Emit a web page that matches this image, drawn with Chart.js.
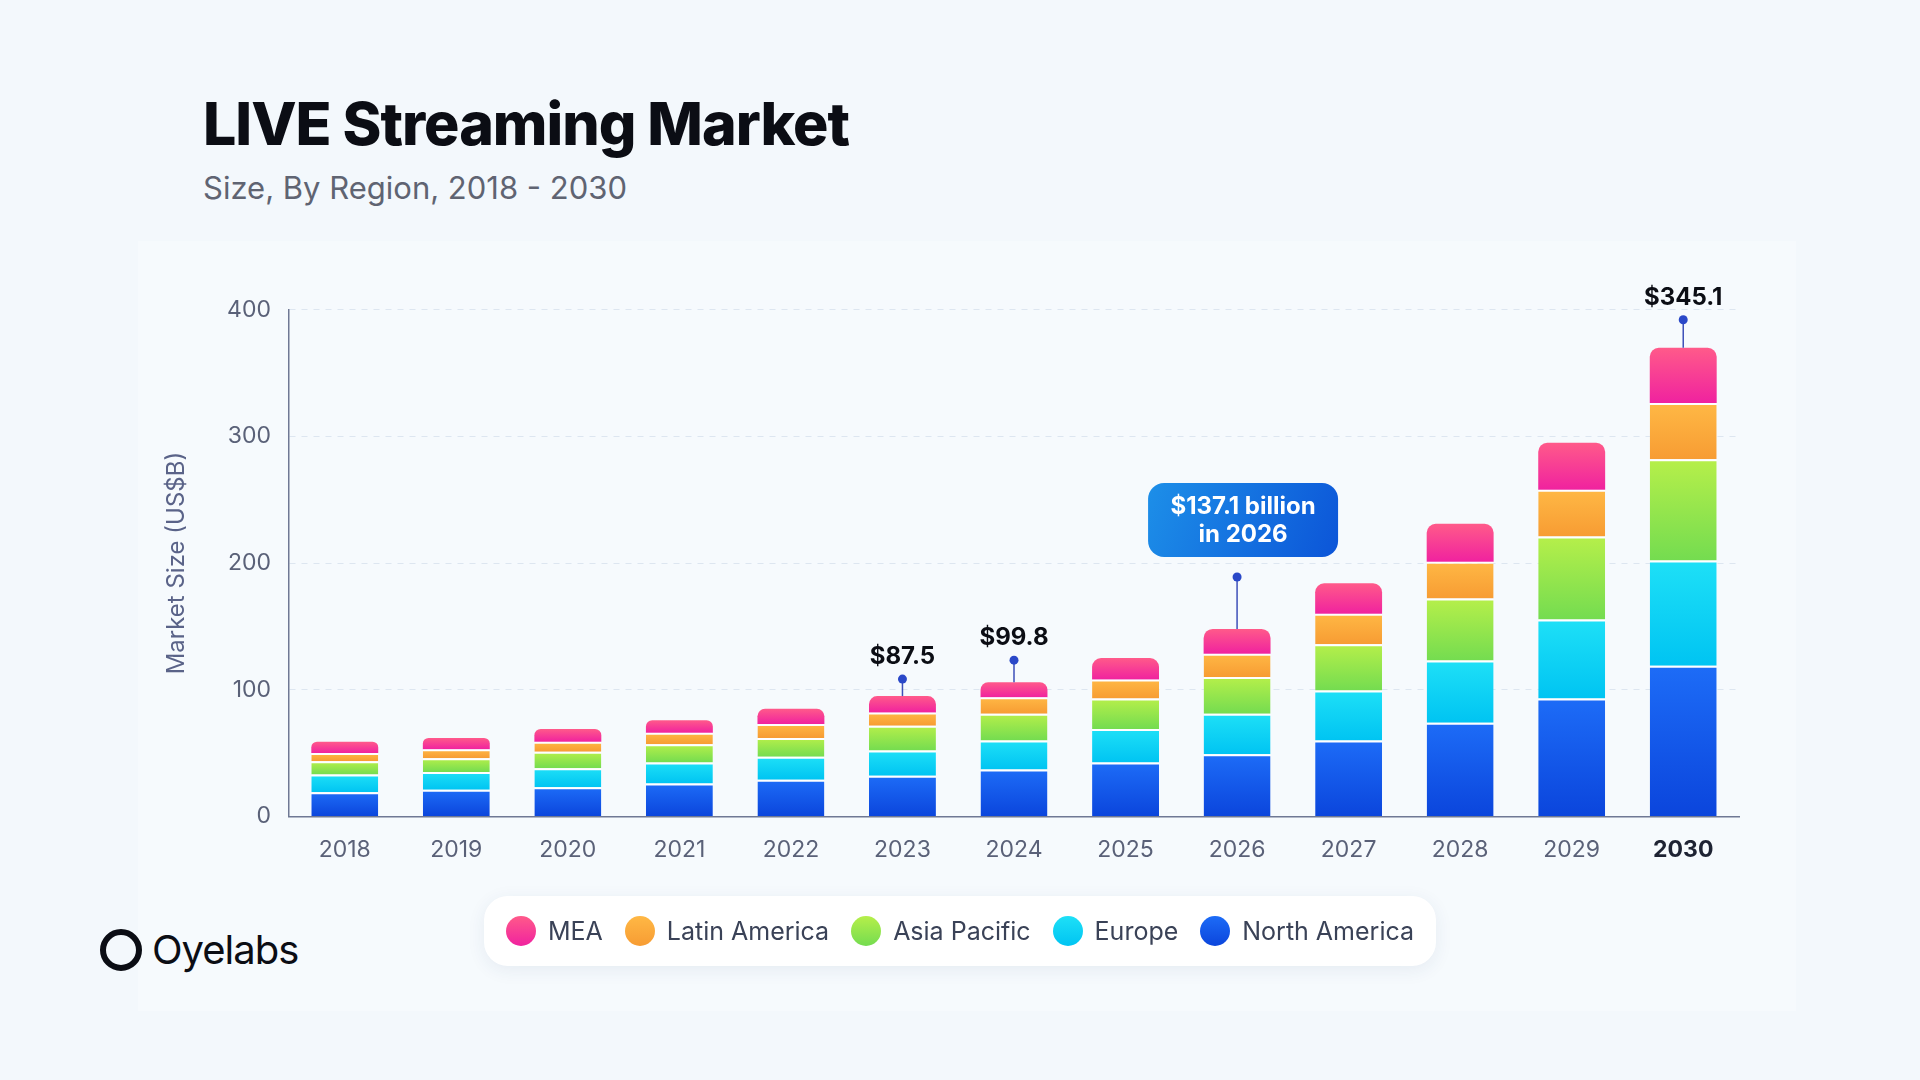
<!DOCTYPE html>
<html>
<head>
<meta charset="utf-8">
<script src="https://cdn.jsdelivr.net/npm/chart.js@4.4.1/dist/chart.umd.min.js"></script>
<style>
  body { margin: 0; width: 1920px; height: 1080px; background: #f3f8fc; font-family: Inter, "Noto Sans", sans-serif; position: relative; overflow: hidden; }
  .panel { position: absolute; left: 138px; top: 241px; width: 1658px; height: 770px; background: #f6fafd; }
  h1 { position: absolute; left: 203px; top: 88px; margin: 0; font-size: 59px; font-weight: 800; color: #0b0d14; letter-spacing: -1px; }
  .sub { position: absolute; left: 203px; top: 169px; font-size: 31px; color: #5f6472; }
  .chart-box { position: absolute; left: 150px; top: 278px; width: 1620px; height: 598px; }
  .legend { position: absolute; left: 484px; top: 896px; width: 952px; height: 70px; background: #fff; border-radius: 24px; box-shadow: 0 4px 18px rgba(40,70,120,0.08); display: flex; align-items: center; justify-content: space-evenly; font-size: 25px; color: #3a4257; }
  .legend span { display: flex; align-items: center; }
  .legend i { width: 30px; height: 30px; border-radius: 50%; margin-right: 12px; display: inline-block; }
  .logo { position: absolute; left: 100px; top: 925px; font-size: 40px; color: #0b0d14; display: flex; align-items: center; letter-spacing: -1px; }
  .logo b { width: 30px; height: 30px; border: 6px solid #0b0d14; border-radius: 50%; margin-right: 10px; }
</style>
</head>
<body>
<div class="panel"></div>
<h1>LIVE Streaming Market</h1>
<div class="sub">Size, By Region, 2018 - 2030</div>
<div class="chart-box"><canvas id="chart"></canvas></div>
<div class="legend" id="legend"></div>
<div class="logo"><b></b>Oyelabs</div>
<script>
const years = ["2018", "2019", "2020", "2021", "2022", "2023", "2024", "2025", "2026", "2027", "2028", "2029", "2030"];
const northAmerica = [19, 21, 23, 26, 29, 32, 37, 42.5, 49, 60, 74, 93, 119];
const europe = [14, 14, 15, 16.5, 18, 20, 23, 26.5, 32, 39.5, 49, 62.5, 83];
const asiaPacific = [10.5, 11, 13, 14.5, 15, 19.5, 21, 24, 29, 36.5, 49, 65.5, 80];
const latinAmerica = [6.5, 7, 8, 9, 11, 10.5, 13, 15, 18.5, 24, 29, 37, 44.5];
const mea = [9, 9, 10, 10, 12, 13, 12, 17, 19.5, 24, 30, 37, 43.5];
const yTicks = [0, 100, 200, 300, 400];

const callouts = [
  { year: "2023", text: "$87.5", lift: 17 },
  { year: "2024", text: "$99.8", lift: 22 },
  { year: "2026", text: "$137.1 billion|in 2026", lift: 52, box: true },
  { year: "2030", text: "$345.1", lift: 28 },
];

const series = [
  { label: "North America", data: northAmerica, top: "#1d6cf7", bottom: "#0b45dc" },
  { label: "Europe", data: europe, top: "#1ee0f7", bottom: "#00c4f2" },
  { label: "Asia Pacific", data: asiaPacific, top: "#b6ef4a", bottom: "#74dc50" },
  { label: "Latin America", data: latinAmerica, top: "#ffb845", bottom: "#f79c33" },
  { label: "MEA", data: mea, top: "#ff5a8a", bottom: "#f0229f" },
];

function segmentGradient(ctx, idx) {
  const chart = ctx.chart;
  const y = chart.scales.y;
  if (!y || !chart.chartArea) return series[idx].bottom;
  let base = 0;
  for (let k = 0; k < idx; k++) base += series[k].data[ctx.dataIndex];
  const topVal = base + series[idx].data[ctx.dataIndex];
  const g = chart.ctx.createLinearGradient(0, y.getPixelForValue(topVal), 0, y.getPixelForValue(base));
  g.addColorStop(0, series[idx].top);
  g.addColorStop(1, series[idx].bottom);
  return g;
}

const calloutPlugin = {
  id: "callouts",
  afterDatasetsDraw(chart) {
    const c = chart.ctx;
    const x = chart.scales.x, y = chart.scales.y;
    callouts.forEach((co) => {
      const i = years.indexOf(co.year);
      const total = series.reduce((s, d) => s + d.data[i], 0);
      const px = x.getPixelForValue(i);
      const topPx = y.getPixelForValue(total);
      const dotY = topPx - co.lift;
      c.save();
      c.strokeStyle = "#3d4fb8";
      c.lineWidth = 1.5;
      c.beginPath(); c.moveTo(px, topPx); c.lineTo(px, dotY); c.stroke();
      c.fillStyle = "#2a48c8";
      c.beginPath(); c.arc(px, dotY, 4.5, 0, Math.PI * 2); c.fill();
      if (co.box) {
        const w = 190, h = 74, bx = px - w / 2 + 6, by = dotY - h - 20;
        const g = c.createLinearGradient(bx, by, bx + w, by + h);
        g.addColorStop(0, "#1d8fe8"); g.addColorStop(1, "#0c55d8");
        c.fillStyle = g;
        c.beginPath(); c.roundRect(bx, by, w, h, 16); c.fill();
        c.fillStyle = "#fff";
        c.font = "bold 24px Inter";
        c.textAlign = "center"; c.textBaseline = "middle";
        const lines = co.text.split("|");
        c.fillText(lines[0], bx + w / 2, by + 24);
        c.fillText(lines[1], bx + w / 2, by + 52);
      } else {
        c.fillStyle = "#0b0d14";
        c.font = "bold 24px Inter";
        c.textAlign = "center"; c.textBaseline = "bottom";
        c.fillText(co.text, px, dotY - 10);
      }
      c.restore();
    });
  },
};

new Chart(document.getElementById("chart"), {
  type: "bar",
  data: {
    labels: years,
    datasets: series.map((s, idx) => ({
      label: s.label,
      data: s.data,
      backgroundColor: (ctx) => segmentGradient(ctx, idx),
      borderColor: "rgba(255,255,255,0.85)",
      borderWidth: idx === series.length - 1 ? 0 : { top: 2, left: 0, right: 0, bottom: 0 },
      borderSkipped: false,
      borderRadius: idx === series.length - 1 ? { topLeft: 9, topRight: 9 } : 0,
      barPercentage: 0.6,
      categoryPercentage: 1,
    })),
  },
  options: {
    responsive: true,
    maintainAspectRatio: false,
    animation: false,
    layout: { padding: { top: 31, right: 31, left: 12, bottom: 0 } },
    plugins: { legend: { display: false }, tooltip: { enabled: false } },
    scales: {
      x: {
        stacked: true,
        grid: { display: false },
        border: { color: "#6f7894", width: 1.5 },
        ticks: {
          padding: 12,
          color: (ctx) => (ctx.index === years.length - 1 ? "#1e2333" : "#5a6178"),
          font: (ctx) => ({ family: "Inter", size: 23, weight: ctx.index === years.length - 1 ? "bold" : "normal" }),
        },
      },
      y: {
        stacked: true,
        min: 0,
        max: 400,
        afterBuildTicks(axis) { axis.ticks = yTicks.map((v) => ({ value: v })); },
        afterFit(axis) { axis.width = 127; },
        grid: { color: "#dde6f0", drawTicks: false },
        border: { color: "#6f7894", width: 1.5, dash: [6, 6] },
        ticks: { padding: 18, color: "#5a6178", font: { family: "Inter", size: 23 } },
        title: { display: true, text: "Market Size (US$B)", color: "#5a6388", font: { family: "Inter", size: 24 }, padding: { top: 0, bottom: 8 } },
      },
    },
  },
  plugins: [calloutPlugin],
});

document.getElementById("legend").innerHTML = series
  .slice()
  .reverse()
  .map((s) => `<span><i style="background:linear-gradient(${s.top},${s.bottom})"></i>${s.label}</span>`)
  .join("");
</script>
</body>
</html>
